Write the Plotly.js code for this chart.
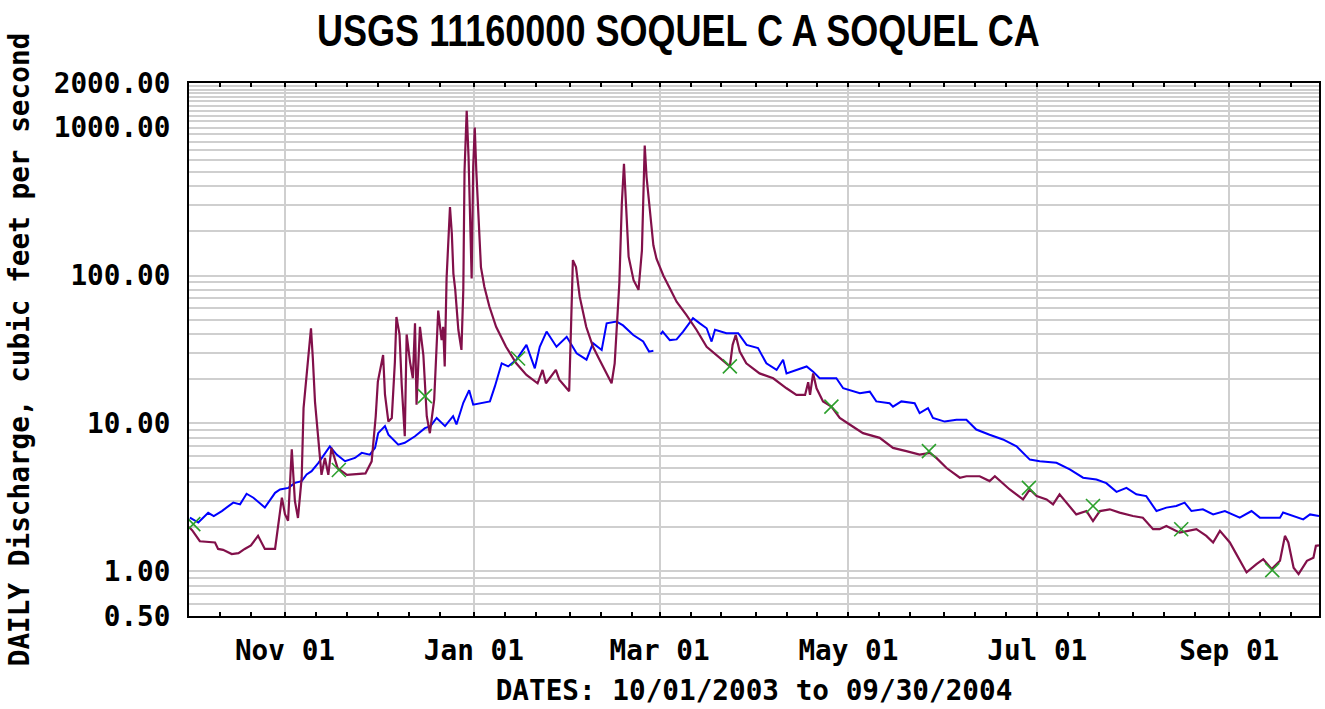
<!DOCTYPE html>
<html>
<head>
<meta charset="utf-8">
<script src="https://cdn.plot.ly/plotly-3.0.1.min.js"></script>
<style>
  html, body { margin: 0; padding: 0; background: #fff; }
  #chart { width: 1325px; height: 709px; }
</style>
</head>
<body>
<div id="chart"></div>
<script>
var dailyDays = [0, 1, 3.5, 8.4, 9.4, 11, 13.8, 16, 18, 20, 22.3, 24.5, 27.8, 28.7, 30, 31, 32, 33.2, 34.2, 35.2,
  36.4, 37, 38.5, 39.4, 40, 40.7, 41.6, 42.8, 43.9, 45, 46, 48, 51, 57, 59, 60.3, 61, 62.2, 62.7, 63.3,
  64.4, 65.5, 66.5, 67, 68, 68.7, 69.7, 70.3, 71.4, 72.3, 73, 73.5, 74.6, 75.7, 76.3, 76.8, 77.8, 79.2, 80.5, 81.6,
  82.1, 82.6, 83.2, 84.3, 84.9, 85.4, 86, 86.5, 87, 88, 88.6, 89, 89.7, 90.3, 90.8, 91.3, 91.8, 92.3, 92.8, 93.7,
  94.3, 95.4, 97, 99.2, 102.4, 105.7, 109, 112.6, 114.2, 115.3, 117, 118.5, 119.6, 122.8, 123.4, 124, 125, 126.2, 128.3, 130.5,
  132.6, 134.8, 136.5, 137.5, 139, 139.8, 140.5, 141.2, 142, 143.6, 145.2, 146.3, 146.8, 147.2, 147.8, 148.9, 150, 151, 153.2, 155.3,
  157.5, 160.7, 163.9, 167.2, 170.4, 174.7, 175.6, 176.6, 177.9, 180, 184.3, 188.7, 193, 196.2, 199, 200, 200.6, 201.6, 202.7, 204.8,
  207.5, 210.2, 213.4, 217.7, 223.1, 227.4, 231.7, 236, 239.3, 241.4, 244.7, 249, 251.1, 255.4, 258.6, 260.3, 265.1, 269.4, 271.6, 273.8,
  277, 279.1, 281.2, 283.4, 286.6, 289.9, 292, 294.2, 297.4, 300.6, 304.9, 308.1, 311.4, 313.5, 315.7, 320, 323.2, 325.4, 328.6, 330.8,
  333, 336.2, 338.3, 341.6, 344.8, 347, 349.7, 352.4, 354, 355.1, 356.8, 358.4, 361.1, 363.2, 364, 365];
var dailyCfs = [2.0, 1.9, 1.6, 1.57, 1.42, 1.4, 1.31, 1.33, 1.42, 1.5, 1.74, 1.42, 1.42, 1.97, 3.15, 2.44, 2.2, 6.7, 3.0, 2.3,
  4.3, 12.7, 29, 44, 27.5, 14, 8.6, 4.5, 5.85, 4.5, 6.85, 5.0, 4.5, 4.6, 5.55, 11.1, 19.2, 26, 29, 15.7,
  10.3, 10.9, 26, 52.5, 40, 18.3, 8.2, 40, 26, 20.2, 47.5, 13.4, 45, 29, 18.7, 11.2, 8.6, 14.5, 58, 36.6,
  45, 24.3, 95.6, 290, 191, 103, 80, 55.5, 43, 31.4, 80, 511, 1300, 627, 183, 95.6, 540, 1000, 511, 191,
  114, 84, 62, 45, 33, 25.5, 21.3, 18.7, 23, 18.7, 20.8, 23, 19.8, 16.5, 45, 127, 114, 72, 45, 33,
  27, 21.9, 18.7, 25.5, 88.5, 304, 569, 290, 134, 93, 80, 148, 485, 755, 463, 275, 160, 130, 100, 82,
  66.5, 54, 43, 33, 29, 24.3, 34, 39.6, 30.6, 25.5, 21.8, 20.2, 17.3, 15.6, 15.6, 19, 15.6, 21.8, 17.3, 14.1,
  13, 10.9, 9.85, 8.6, 8.0, 6.84, 6.5, 6.16, 6.33, 5.85, 5.0, 4.3, 4.4, 4.4, 4.08, 4.4, 3.58, 3.07, 3.58, 3.23,
  3.07, 2.84, 3.32, 2.92, 2.43, 2.56, 2.19, 2.56, 2.63, 2.5, 2.37, 2.31, 1.93, 1.93, 2.03, 1.83, 1.88, 1.93, 1.74, 1.57,
  1.88, 1.57, 1.31, 0.985, 1.12, 1.21, 1.04, 1.18, 1.74, 1.57, 1.06, 0.96, 1.18, 1.24, 1.49, 1.5];

// blue line (no value for Feb 29)
var medianDays = [0.3, 3, 6.2, 8, 10.6, 14.3, 16.5, 18.6, 20.8, 24.5, 27.8, 29.4, 32.1, 34.2, 36.4, 38, 39.6, 41.8, 45.5, 47.7,
  50.4, 53.6, 55.8, 58.4, 60.1, 61.1, 63.3, 64.4, 67.6, 69.7, 73, 76.2, 78, 80, 82.7, 85.3, 86.4, 88.6, 90.5, 91.8,
  97.2, 98.8, 101, 103.1, 105.8, 109, 111.7, 113.3, 115.5, 118.7, 122, 125.2, 128.4, 130.5, 133.3, 134.9, 138.1, 140.2, 143.5, 146.7,
  148.6, 150, 150.9, 152.3, 153, 155.3, 157.5, 159.6, 162.8, 165, 167.2, 168.8, 169.9, 173.6, 177.4, 180.1, 183.8, 186.5, 189.8, 191.9,
  193, 196.2, 199.5, 201.6, 203.7, 209.1, 211.3, 216.7, 219.9, 222, 226.3, 227.4, 230.1, 234.4, 236, 238.7, 240.3, 244.1, 247.9, 251.1,
  254.3, 258.6, 262.9, 267.3, 271.6, 274.8, 280.2, 284.5, 288.8, 293.1, 296.3, 299.6, 302.8, 306, 309.2, 312.5, 315.7, 318.9, 321.6, 323.8,
  327.5, 330.8, 334.6, 339.4, 343.2, 345.9, 352.4, 353.4, 356.7, 359.9, 362.1, 365];
var medianCfs = [2.31, 2.14, 2.49, 2.37, 2.56, 2.92, 2.84, 3.35, 3.15, 2.7, 3.4, 3.58, 3.67, 3.97, 4.08, 4.53, 4.76, 5.42, 7.0, 6.16,
  5.56, 5.85, 6.33, 6.16, 6.84, 8.6, 9.6, 8.4, 7.2, 7.4, 8.2, 9.3, 9.6, 10.9, 9.6, 11.2, 9.85, 13.8, 16.8, 13.4,
  14.1, 17.8, 25.5, 24.3, 27, 34, 23.6, 33, 41.8, 33, 38.5, 29.8, 27, 34.9, 31.4, 47.5, 48.8, 46, 39.6, 35.8,
  30.6, 31, null, 40, 41.8, 36.6, 37, 41.8, 51.5, 47.5, 44, 35.8, 43, 40.7, 40.7, 34, 32.3, 25.5, 23, 27,
  21.8, 23, 24.3, 22.4, 20.2, 20.2, 17.3, 16, 16.4, 14.1, 13.7, 13, 14.1, 13.7, 11.75, 12.7, 10.9, 10.3, 10.6, 10.6,
  9.1, 8.4, 7.8, 7.0, 5.7, 5.56, 5.42, 4.9, 4.3, 4.18, 3.95, 3.45, 3.67, 3.32, 3.23, 2.56, 2.7, 2.77, 2.92, 2.56,
  2.63, 2.43, 2.56, 2.31, 2.56, 2.31, 2.31, 2.5, 2.37, 2.25, 2.43, 2.37];

// field measurements
var measDays = [1.4, 48.4, 76.2, 106.3, 174.7, 207.5, 239, 271.3, 292, 320.5, 349.9];
var measCfs = [2.09, 4.85, 15.3, 27.5, 24.3, 13.0, 6.5, 3.67, 2.77, 1.93, 1.02];

// axis ticks
var xTickDates = ['2003-11-01', '2004-01-01', '2004-03-01', '2004-05-01', '2004-07-01', '2004-09-01'];
var xTickText = ['Nov 01', 'Jan 01', 'Mar 01', 'May 01', 'Jul 01', 'Sep 01'];
var yTickVals = [0.5, 1, 10, 100, 1000, 2000];
var yTickText = ['0.50', '1.00', '10.00', '100.00', '1000.00', '2000.00'];
var yGridVals = [0.6, 0.7, 0.8, 0.9, 2, 3, 4, 5, 6, 7, 8, 9, 20, 30, 40, 50, 60, 70, 80, 90,
  200, 300, 400, 500, 600, 700, 800, 900, 1100, 1200, 1300, 1400, 1500, 1600, 1700, 1800, 1900];

var T0 = Date.UTC(2003, 9, 1);
var DAY = 86400000;
function toTime(d) { return T0 + d * DAY; }

// small ticks on the 1st, 11th and 21st of every month
var minorTicks = [];
for (var m = 0; m < 12; m++) {
  [1, 11, 21].forEach(function (d) {
    minorTicks.push(Date.UTC(2003, 9 + m, d));
  });
}

var monoFont = { family: 'DejaVu Sans Mono, Liberation Mono, monospace', size: 27.7, color: '#000', weight: 'bold' };

var data = [
  {
    x: medianDays.map(toTime),
    y: medianCfs,
    type: 'scatter',
    mode: 'lines',
    connectgaps: false,
    line: { color: '#0000ff', width: 2 },
    hoverinfo: 'skip'
  },
  {
    x: dailyDays.map(toTime),
    y: dailyCfs,
    type: 'scatter',
    mode: 'lines',
    line: { color: '#82104a', width: 2.2 },
    hoverinfo: 'skip'
  },
  {
    x: measDays.map(toTime),
    y: measCfs,
    type: 'scatter',
    mode: 'markers',
    marker: { symbol: 'x-thin-open', size: 14, line: { color: '#1e9a1e', width: 1.6 } },
    hoverinfo: 'skip'
  }
];

var layout = {
  width: 1325,
  height: 709,
  paper_bgcolor: '#fff',
  plot_bgcolor: '#fff',
  showlegend: false,
  margin: { l: 189, r: 6, t: 83, b: 93 },
  title: {
    text: 'USGS 11160000 SOQUEL C A SOQUEL CA',
    font: { family: 'Liberation Sans Narrow, Arial Narrow, Liberation Sans, sans-serif', size: 45, color: '#000', weight: 'bold' },
    xref: 'container',
    yref: 'container',
    x: 0.512,
    xanchor: 'center',
    y: 0.958,
    yanchor: 'middle'
  },
  xaxis: {
    type: 'date',
    range: [toTime(0), toTime(365)],
    tickmode: 'array',
    tickvals: xTickDates,
    ticktext: xTickText,
    ticks: 'inside',
    ticklen: 4,
    tickwidth: 2,
    tickcolor: '#000',
    tickfont: monoFont,
    ticklabelstandoff: 9,
    showgrid: true,
    gridcolor: '#cfcfcf',
    gridwidth: 2,
    zeroline: false,
    showline: true,
    linecolor: '#000',
    linewidth: 2,
    mirror: 'allticks',
    minor: {
      tickmode: 'array',
      tickvals: minorTicks,
      ticks: 'inside',
      ticklen: 4,
      tickwidth: 2,
      tickcolor: '#000',
      showgrid: false
    },
    title: {
      text: 'DATES: 10/01/2003 to 09/30/2004',
      font: monoFont,
      standoff: 14
    },
    fixedrange: true
  },
  yaxis: {
    type: 'log',
    range: [Math.log10(0.5), Math.log10(2000)],
    tickmode: 'array',
    tickvals: yTickVals,
    ticktext: yTickText,
    ticks: '',
    tickfont: monoFont,
    ticklabelstandoff: 11,
    showgrid: true,
    gridcolor: '#cfcfcf',
    gridwidth: 2,
    zeroline: false,
    showline: true,
    linecolor: '#000',
    linewidth: 2,
    mirror: true,
    minor: {
      tickmode: 'array',
      tickvals: yGridVals,
      ticks: '',
      showgrid: true,
      gridcolor: '#cfcfcf',
      gridwidth: 2
    },
    title: {
      text: 'DAILY Discharge, cubic feet per second',
      font: monoFont,
      standoff: 16
    },
    fixedrange: true
  }
};

// the reference title uses a condensed face; squeeze it to the same width
var TITLE_WIDTH = 723;
var TITLE_CENTER = 678.5;
function squeezeTitle() {
  var t = document.querySelector('#chart .gtitle');
  if (!t) return;
  var w = t.getBBox().width;
  if (w > TITLE_WIDTH) {
    var s = TITLE_WIDTH / w;
    t.setAttribute('transform', 'translate(' + TITLE_CENTER + ',0) scale(' + s + ',1) translate(' + (-TITLE_CENTER) + ',0)');
  }
}

Plotly.newPlot('chart', data, layout, { staticPlot: true, displayModeBar: false }).then(squeezeTitle);
</script>
</body>
</html>
